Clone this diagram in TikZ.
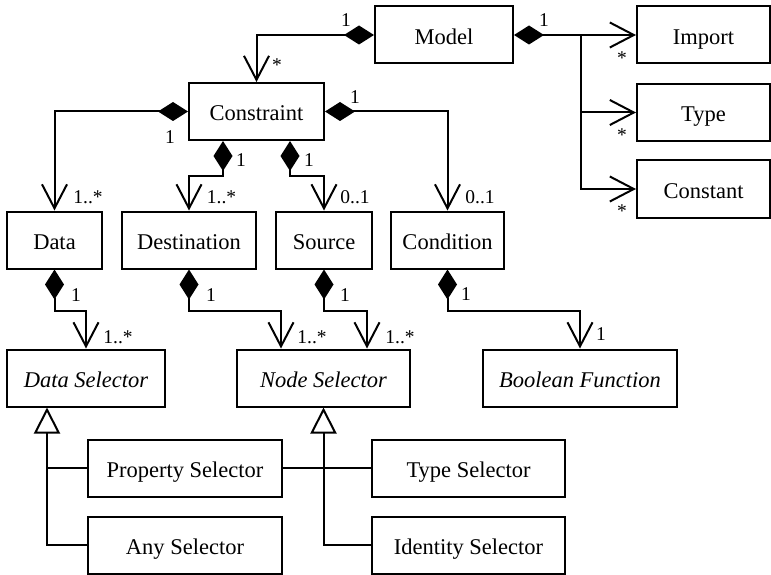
\documentclass[tikz,border=0pt]{standalone}
\usepackage{fontspec}
\setmainfont{Liberation Serif}
\usetikzlibrary{arrows.meta}

\tikzset{
  cls/.style={draw, line width=2pt, minimum height=57pt, inner sep=0pt,
    text height=20pt, text depth=1.4pt,
    font=\fontsize{22.5}{27}\selectfont},
  mult/.style={inner sep=0pt, font=\fontsize{19.5}{23}\selectfont},
  link/.style={line width=2pt},
  comp/.style={link, {Diamond[length=30pt,width=19pt]}-{Straight Barb[length=24pt,width=25pt]}},
  assoc/.style={link, -{Straight Barb[length=24pt,width=25pt]}},
  gen/.style={link, -{Triangle[open,length=26pt,width=26pt,fill=white]}},
  genbranch/.style={line width=1.4pt},
}

\begin{document}
\begin{tikzpicture}[x=1pt,y=-1pt]
\useasboundingbox (0,0) rectangle (771,575);

% classes
\node[cls, minimum width=138pt] (Model)      at (444,35)    {Model};
\node[cls, minimum width=133pt] (Import)     at (703.5,35)  {Import};
\node[cls, minimum width=133pt] (Type)       at (703.5,112.5) {Type};
\node[cls, minimum width=133pt] (Constant)   at (703.5,189) {Constant};
\node[cls, minimum width=135pt] (Constraint) at (256.5,111.5) {Constraint};
\node[cls, minimum width=95pt]  (Data)       at (54.5,240)  {Data};
\node[cls, minimum width=134pt] (Destination) at (189,240)  {Destination};
\node[cls, minimum width=96pt]  (Source)     at (324,240)   {Source};
\node[cls, minimum width=113pt] (Condition)  at (447.5,240) {Condition};
\node[cls, minimum width=158pt] (DataSel)    at (86,378)    {\itshape Data Selector};
\node[cls, minimum width=173pt] (NodeSel)    at (323.5,378) {\itshape Node Selector};
\node[cls, minimum width=194pt] (BoolFn)     at (580,378)   {\itshape Boolean Function};
\node[cls, minimum width=194pt] (PropSel)    at (185,468)   {Property Selector};
\node[cls, minimum width=194pt] (AnySel)     at (185,545)   {Any Selector};
\node[cls, minimum width=193pt] (TypeSel)    at (468.5,468) {Type Selector};
\node[cls, minimum width=193pt] (IdSel)      at (468.5,545) {Identity Selector};

% Model compositions
\coordinate (fork) at (581,35);
\draw[comp] (Model.west) -| (Constraint.north);
\draw[comp] (Model.east) -- (Import.west);
\draw[assoc] (fork) |- (Type.west);
\draw[assoc] (fork) |- (Constant.west);

% Constraint compositions
\draw[comp] (Constraint.west) -| (Data.north);
\draw[comp] (Constraint.east) -| (Condition.north);
\draw[comp] ([xshift=-33.5pt]Constraint.south) -- ++(0,35) -| (Destination.north);
\draw[comp] ([xshift=33.5pt]Constraint.south) -- ++(0,35) -| (Source.north);

% selector compositions
\draw[comp] (Data.south) -- ++(0,41) -| (DataSel.north);
\draw[comp] (Destination.south) -- ++(0,41) -| ([xshift=-42.5pt]NodeSel.north);
\draw[comp] (Source.south) -- ++(0,41) -| ([xshift=43.5pt]NodeSel.north);
\draw[comp] (Condition.south) -- ++(0,41) -| (BoolFn.north);

% generalizations
\draw[gen] (AnySel.west) -| ([xshift=-39pt]DataSel.south);
\draw[genbranch] (PropSel.west) -- ++(-41,0);
\draw[gen] (IdSel.west) -| (NodeSel.south);
\draw[genbranch] (PropSel.east) -- (TypeSel.west);

% multiplicities
\node[mult] (m1)  at (346,20.5)  {1};
\node[mult] (m2)  at (277,65)    {*};
\node[mult] (m3)  at (544,20.5)  {1};
\node[mult] (m4)  at (622,58)    {*};
\node[mult] (m5)  at (622,135)   {*};
\node[mult] (m6)  at (622,211)   {*};
\node[mult] (m7)  at (355,97.5)  {1};
\node[mult] (m8)  at (170,137)   {1};
\node[mult] (m9)  at (88,197.5)  {1..*};
\node[mult] (m10) at (241,160.5) {1};
\node[mult] (m11) at (221.5,197.5) {1..*};
\node[mult] (m12) at (309,160.5) {1};
\node[mult] (m13) at (355,197.5) {0..1};
\node[mult] (m14) at (480,197.5) {0..1};
\node[mult] (m15) at (76,295)    {1};
\node[mult] (m16) at (211,295)   {1};
\node[mult] (m17) at (345,295)   {1};
\node[mult] (m18) at (466,294)   {1};
\node[mult] (m19) at (601,334)   {1};
\node[mult] (m20) at (118,337.5) {1..*};
\node[mult] (m21) at (312,337.5) {1..*};
\node[mult] (m22) at (400,337.5) {1..*};
\end{tikzpicture}
\end{document}
